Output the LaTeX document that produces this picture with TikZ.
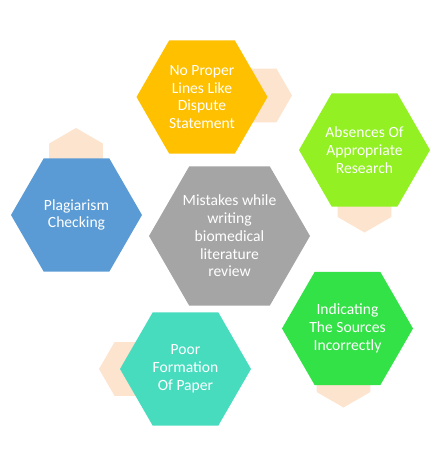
\documentclass[tikz,border=0pt]{standalone}
\usepackage{fontspec}
\setmainfont{Carlito}
\usetikzlibrary{shapes.geometric}

\definecolor{hexgray}{HTML}{A5A5A5}
\definecolor{hexyellow}{HTML}{FFC000}
\definecolor{hexlime}{HTML}{92F023}
\definecolor{hexgreen}{HTML}{33E247}
\definecolor{hexteal}{HTML}{48DCBF}
\definecolor{hexblue}{HTML}{5B9BD5}
\definecolor{hexpeach}{HTML}{FCE4CE}

\begin{document}
\begin{tikzpicture}[x=1pt,y=-1pt,
    hex/.style={regular polygon,regular polygon sides=6,inner sep=0pt,outer sep=0pt,
        minimum size=131pt,text=white,align=center,
        font=\fontsize{15.6}{17.8}\selectfont},
    bghex/.style={regular polygon,regular polygon sides=6,inner sep=0pt,outer sep=0pt,
        minimum size=62pt,fill=hexpeach}]
    \useasboundingbox (0,0) rectangle (445,451);

    % small peach hexagons behind
    \node[bghex] (b1) at (261,95.5) {};
    \node[bghex,shape border rotate=30] (b2) at (364.5,201.5) {};
    \node[bghex,shape border rotate=30] (b3) at (76,159) {};
    \node[bghex,shape border rotate=30] (b4) at (343.5,376.5) {};
    \node[bghex] (b5) at (130,369) {};

    % main hexagons
    \node[hex,fill=hexgray,minimum size=161pt] (mistakes) at (229.5,236)
        {Mistakes while\\writing\\biomedical\\literature\\review};
    \node[hex,fill=hexyellow] (proper) at (202,97)
        {No Proper\\Lines Like\\Dispute\\Statement};
    \node[hex,fill=hexlime] (absences) at (364.5,150)
        {Absences Of\\Appropriate\\Research};
    \node[hex,fill=hexblue] (plagiarism) at (76.5,215)
        {Plagiarism\\Checking};
    \node[hex,fill=hexgreen] (sources) at (347.5,328.5)
        {Indicating\\The Sources\\Incorrectly};
    \node[hex,fill=hexteal] (paper) at (185.5,369)
        {Poor\\Formation\\Of Paper};
\end{tikzpicture}
\end{document}
